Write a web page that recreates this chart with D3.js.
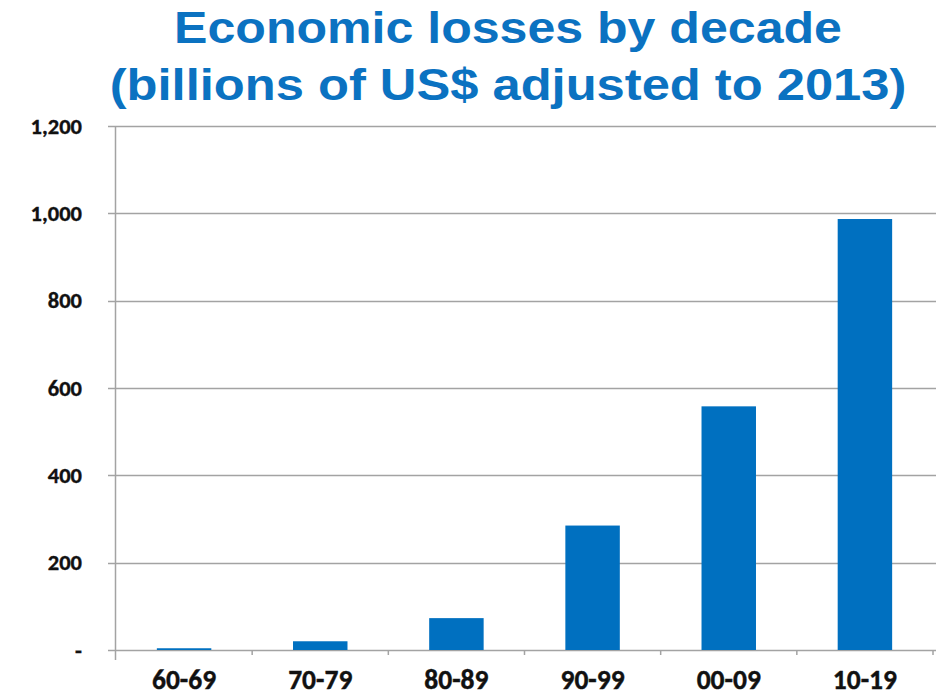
<!DOCTYPE html>
<html>
<head>
<meta charset="utf-8">
<script src="https://cdn.jsdelivr.net/npm/d3@7"></script>
<style>
  html, body { margin: 0; padding: 0; background: #ffffff; }
  svg { display: block; }
</style>
</head>
<body>
<svg id="chart" width="936" height="695"></svg>
<script>
// Economic losses per decade, billions of US$ (2013 dollars)
const decades = ["60-69", "70-79", "80-89", "90-99", "00-09", "10-19"];
const losses = [4, 20, 73, 285, 558, 987];
const yTickValues = [0, 200, 400, 600, 800, 1000, 1200];
const titleLines = ["Economic losses by decade", "(billions of US$ adjusted to 2013)"];

const W = 936, H = 695;
const plot = { left: 116, right: 933, top: 126, bottom: 650 };
const barColor = "#0070c0";
const titleColor = "#0b72c1";
const lineColor = "#a3a3a3";
const labelFont = "Carlito, Lato, 'Open Sans', sans-serif";

const svg = d3.select("#chart");

const x = d3.scaleBand()
  .domain(decades)
  .range([plot.left, plot.right])
  .paddingInner(0.6)
  .paddingOuter(0.3);

const y = d3.scaleLinear()
  .domain([0, 1200])
  .range([plot.bottom, plot.top]);

// Horizontal gridlines (extend a little left of the axis as tick marks)
svg.append("g")
  .selectAll("line")
  .data(yTickValues)
  .join("line")
  .attr("x1", plot.left - 8)
  .attr("x2", W)
  .attr("y1", d => Math.round(y(d)) + 0.5)
  .attr("y2", d => Math.round(y(d)) + 0.5)
  .attr("stroke", lineColor)
  .attr("stroke-width", 1.5);

// Y axis labels
const yAxis = svg.append("g")
  .attr("transform", `translate(${plot.left - 1},0)`)
  .call(d3.axisLeft(y)
    .tickValues(yTickValues)
    .tickSize(0)
    .tickPadding(33)
    .tickFormat(d => d === 0 ? "-" : d3.format(",")(d)));
yAxis.select(".domain").remove();
yAxis.selectAll("text")
  .attr("font-family", labelFont)
  .attr("font-weight", "bold")
  .attr("font-size", 22.5)
  .attr("fill", "#111")
  .attr("stroke", "#111")
  .attr("stroke-width", 0.35);

// Vertical axis line
svg.append("line")
  .attr("x1", plot.left - 0.5).attr("x2", plot.left - 0.5)
  .attr("y1", y(1200)).attr("y2", plot.bottom + 10)
  .attr("stroke", lineColor)
  .attr("stroke-width", 1.5);

// Category boundary ticks below the baseline
const step = x.step();
const boundaries = decades.slice(1).map(d => x(d) + x.bandwidth() / 2 - step / 2)
  .concat([x(decades[decades.length - 1]) + x.bandwidth() / 2 + step / 2]);
svg.append("g")
  .selectAll("line")
  .data(boundaries)
  .join("line")
  .attr("x1", d => d).attr("x2", d => d)
  .attr("y1", plot.bottom).attr("y2", plot.bottom + 5)
  .attr("stroke", lineColor)
  .attr("stroke-width", 1.5);

// Bars
svg.append("g")
  .selectAll("rect")
  .data(decades.map((d, i) => ({ decade: d, value: losses[i] })))
  .join("rect")
  .attr("x", d => x(d.decade))
  .attr("width", x.bandwidth())
  .attr("y", d => y(d.value))
  .attr("height", d => y(0) - y(d.value))
  .attr("fill", barColor);

// Category labels
svg.append("g")
  .selectAll("text")
  .data(decades)
  .join("text")
  .attr("x", d => x(d) + x.bandwidth() / 2)
  .attr("y", 689)
  .attr("text-anchor", "middle")
  .attr("font-family", labelFont)
  .attr("font-weight", "bold")
  .attr("font-size", 27.5)
  .attr("fill", "#111")
  .attr("stroke", "#111")
  .attr("stroke-width", 0.4)
  .text(d => d);

// Title, two lines, stretched slightly to the heading width
const titleSpecs = [
  { text: titleLines[0], baseline: 43, width: 668 },
  { text: titleLines[1], baseline: 100, width: 797 }
];
const cx = 508;
titleSpecs.forEach(t => {
  const g = svg.append("g").attr("transform", `translate(${cx},${t.baseline})`);
  const txt = g.append("text")
    .attr("text-anchor", "middle")
    .attr("font-family", "'Liberation Sans', Arial, sans-serif")
    .attr("font-weight", "bold")
    .attr("font-size", 44)
    .attr("fill", titleColor)
    .text(t.text);
  const len = txt.node().getComputedTextLength();
  txt.attr("transform", `scale(${t.width / len},1)`);
});
</script>
</body>
</html>
